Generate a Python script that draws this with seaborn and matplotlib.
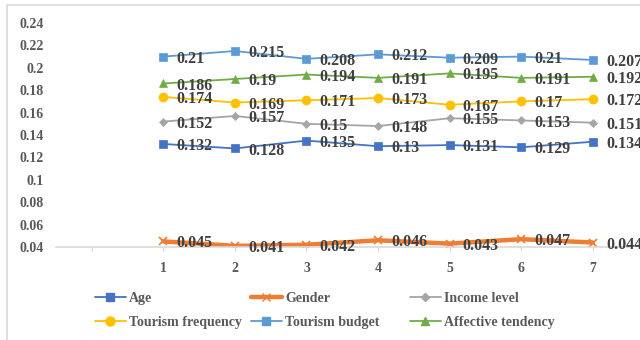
import numpy as np
import pandas as pd
import matplotlib
matplotlib.use("Agg")
import matplotlib.pyplot as plt
from matplotlib.lines import Line2D
import seaborn as sns

# categories (first slot is an empty category on the axis)
positions = [1, 2, 3, 4, 5, 6, 7]
tick_labels = ["", "1", "2", "3", "4", "5", "6", "7"]

age = [0.132, 0.128, 0.135, 0.13, 0.131, 0.129, 0.134]
gender = [0.045, 0.041, 0.042, 0.046, 0.043, 0.047, 0.044]
income_level = [0.152, 0.157, 0.15, 0.148, 0.155, 0.153, 0.151]
tourism_frequency = [0.174, 0.169, 0.171, 0.173, 0.167, 0.17, 0.172]
tourism_budget = [0.21, 0.215, 0.208, 0.212, 0.209, 0.21, 0.207]
affective_tendency = [0.186, 0.19, 0.194, 0.191, 0.195, 0.191, 0.192]

series = [
    ("Age", age, "#4472C4", "s", 1.3, 6),
    ("Gender", gender, "#ED7D31", "x", 3.2, 6),
    ("Income level", income_level, "#A5A5A5", "D", 1.3, 4.5),
    ("Tourism frequency", tourism_frequency, "#FFC000", "o", 1.3, 6.5),
    ("Tourism budget", tourism_budget, "#5B9BD5", "s", 1.3, 6),
    ("Affective tendency", affective_tendency, "#70AD47", "^", 1.3, 6),
]

sns.set_theme(style="white")
plt.rcParams['font.family'] = ['Liberation Serif', 'DejaVu Serif']
plt.rcParams['font.weight'] = 'bold'

fig = plt.figure(figsize=(6.4, 3.4), dpi=100)
ax = fig.add_axes([56 / 640, 1 - 247 / 340, (628.5 - 56) / 640, (247 - 23) / 340])

for name, vals, color, marker, lw, ms in series:
    df = pd.DataFrame({"x": positions, "y": vals})
    sns.lineplot(data=df, x="x", y="y", ax=ax, color=color, marker=marker,
                 linewidth=lw, markersize=ms, markeredgecolor=color,
                 markeredgewidth=1.2 if marker == "x" else 0.5, legend=False)
    for x, v in zip(positions, vals):
        ax.annotate(f"{v:g}", (x, v), xytext=(9.5, -1.5), textcoords="offset points",
                    ha="left", va="center", fontsize=11.5, fontweight="bold",
                    color="#404040", annotation_clip=False)

ax.set_xlim(-0.5, 7.5)
ax.set_ylim(0.04, 0.24)
ax.set_xticks(range(8))
ax.set_xticklabels(tick_labels)
yt = np.round(np.arange(0.04, 0.2401, 0.02), 2)
ax.set_yticks(yt)
ax.set_yticklabels([f"{v:g}" for v in yt])
ax.set_xlabel("")
ax.set_ylabel("")
ax.tick_params(axis="x", length=3, width=0.8, color="#D9D9D9", pad=8,
               labelsize=10, labelcolor="#595959", direction="out", bottom=True)
ax.tick_params(axis="y", length=0, pad=9, labelsize=10, labelcolor="#595959")
for lab in ax.get_xticklabels() + ax.get_yticklabels():
    lab.set_fontweight("bold")
for s in ["left", "right", "top"]:
    ax.spines[s].set_visible(False)
ax.spines["bottom"].set_color("#D9D9D9")
ax.spines["bottom"].set_linewidth(1.2)
ax.grid(False)

# legend: 2 rows x 3 columns, filled row by row, one legend per column
handles = [Line2D([], [], color=c, marker=m, linewidth=lw, markersize=ms,
                  markeredgecolor=c) for _, _, c, m, lw, ms in series]
labels = [s[0] for s in series]
col_x = [88, 244, 403]
for i, x0 in enumerate(col_x):
    leg = fig.legend([handles[i], handles[i + 3]], [labels[i], labels[i + 3]],
                     ncol=1, loc="upper left",
                     bbox_to_anchor=(x0 / 640, 1 - 285 / 340), frameon=False,
                     labelcolor="#595959", handlelength=2.2,
                     handletextpad=0.25, labelspacing=0.8,
                     borderpad=0, prop={"weight": "bold", "size": 10})

# chart area border (left and top visible)
fig.add_artist(Line2D([7 / 640, 7 / 640], [0, 1 - 5 / 340], color="#D9D9D9", lw=1.2,
                      transform=fig.transFigure))
fig.add_artist(Line2D([7 / 640, 1], [1 - 5 / 340, 1 - 5 / 340], color="#D9D9D9", lw=1.2,
                      transform=fig.transFigure))

fig.savefig("out.png", dpi=100)
